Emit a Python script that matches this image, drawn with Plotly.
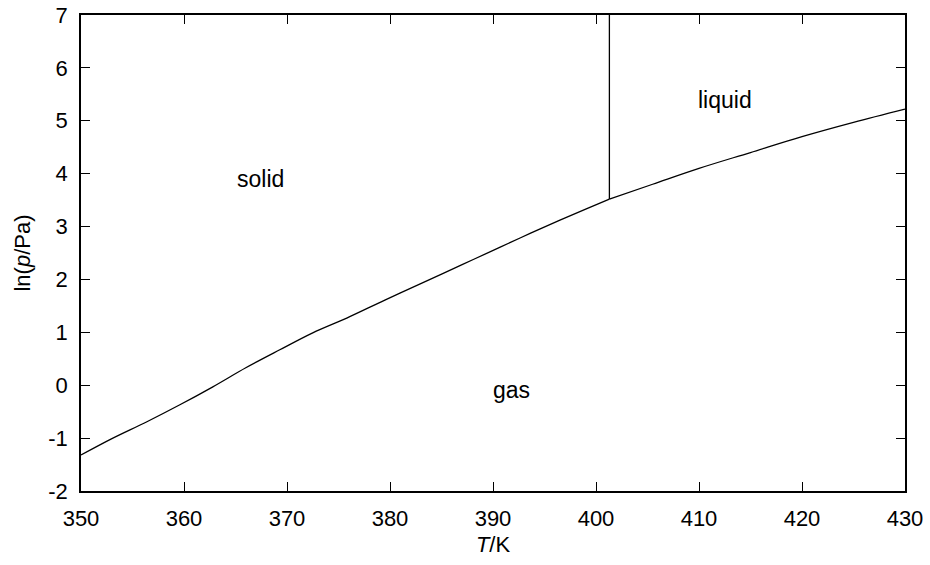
import plotly.graph_objects as go

# solid-gas (sublimation) curve
T_sub = [350, 353.0, 356.4, 359.6, 362.8, 366.0, 369.3, 372.5, 375.8, 379.5, 383.2, 387.0, 390.7, 393.6, 396.5, 399.0, 401.3]
lnp_sub = [-1.32, -1.01, -0.69, -0.37, -0.03, 0.33, 0.67, 0.99, 1.27, 1.61, 1.94, 2.28, 2.61, 2.87, 3.12, 3.33, 3.52]
# liquid-gas (vaporization) curve
T_vap = [401.3, 405.5, 410.0, 415.0, 420.0, 425.0, 430]
lnp_vap = [3.52, 3.80, 4.10, 4.40, 4.70, 4.97, 5.22]
# solid-liquid (melting) line
T_melt = [401.3, 401.3]
lnp_melt = [3.52, 7]

labels = ["solid", "liquid", "gas"]
label_T = [367.4, 412.5, 391.8]
label_lnp = [3.9, 5.4, -0.09]

x_ticks = [350, 360, 370, 380, 390, 400, 410, 420, 430]
y_ticks = [-2, -1, 0, 1, 2, 3, 4, 5, 6, 7]
y_ticktext = ["-2", "-1", "0", "1", "2", "3", "4", "5", "6", "7"]

FONT = "Liberation Sans, Arial, sans-serif"
FS_TICK = 22
FS_TEXT = 23

fig = go.Figure()
line = dict(color="black", width=1.3)
fig.add_trace(go.Scatter(x=T_sub, y=lnp_sub, mode="lines", line=dict(line, shape="spline", smoothing=1.0)))
fig.add_trace(go.Scatter(x=T_vap, y=lnp_vap, mode="lines", line=dict(line, shape="spline", smoothing=1.0)))
fig.add_trace(go.Scatter(x=T_melt, y=lnp_melt, mode="lines", line=line))

for t, x, y in zip(labels, label_T, label_lnp):
    fig.add_annotation(x=x, y=y, text=t, showarrow=False,
                       font=dict(family=FONT, size=FS_TEXT, color="black"))

axis_common = dict(
    showgrid=False, zeroline=False, showline=True, linecolor="black", linewidth=1.5,
    mirror="allticks", ticks="inside", ticklen=9, tickwidth=1.2, tickcolor="black",
    tickfont=dict(family=FONT, size=FS_TICK, color="black"), automargin=False,
)

fig.update_layout(
    width=930, height=565,
    margin=dict(l=81, r=25, t=15, b=74),
    paper_bgcolor="white", plot_bgcolor="white",
    showlegend=False,
    xaxis=dict(axis_common, range=[350, 430], tickvals=x_ticks,
               title=dict(text="<i>T</i>/K", font=dict(family=FONT, size=FS_TICK, color="black"), standoff=6),
               ticklabelstandoff=7),
    yaxis=dict(axis_common, range=[-2, 7], tickvals=y_ticks, ticktext=y_ticktext,
               title=dict(text="ln(<i>p</i>/Pa)", font=dict(family=FONT, size=FS_TICK, color="black"), standoff=12),
               ticklabelstandoff=7),
)

fig.write_html("out.html", config={"displayModeBar": False},
               post_script="document.body.style.margin='0';")
